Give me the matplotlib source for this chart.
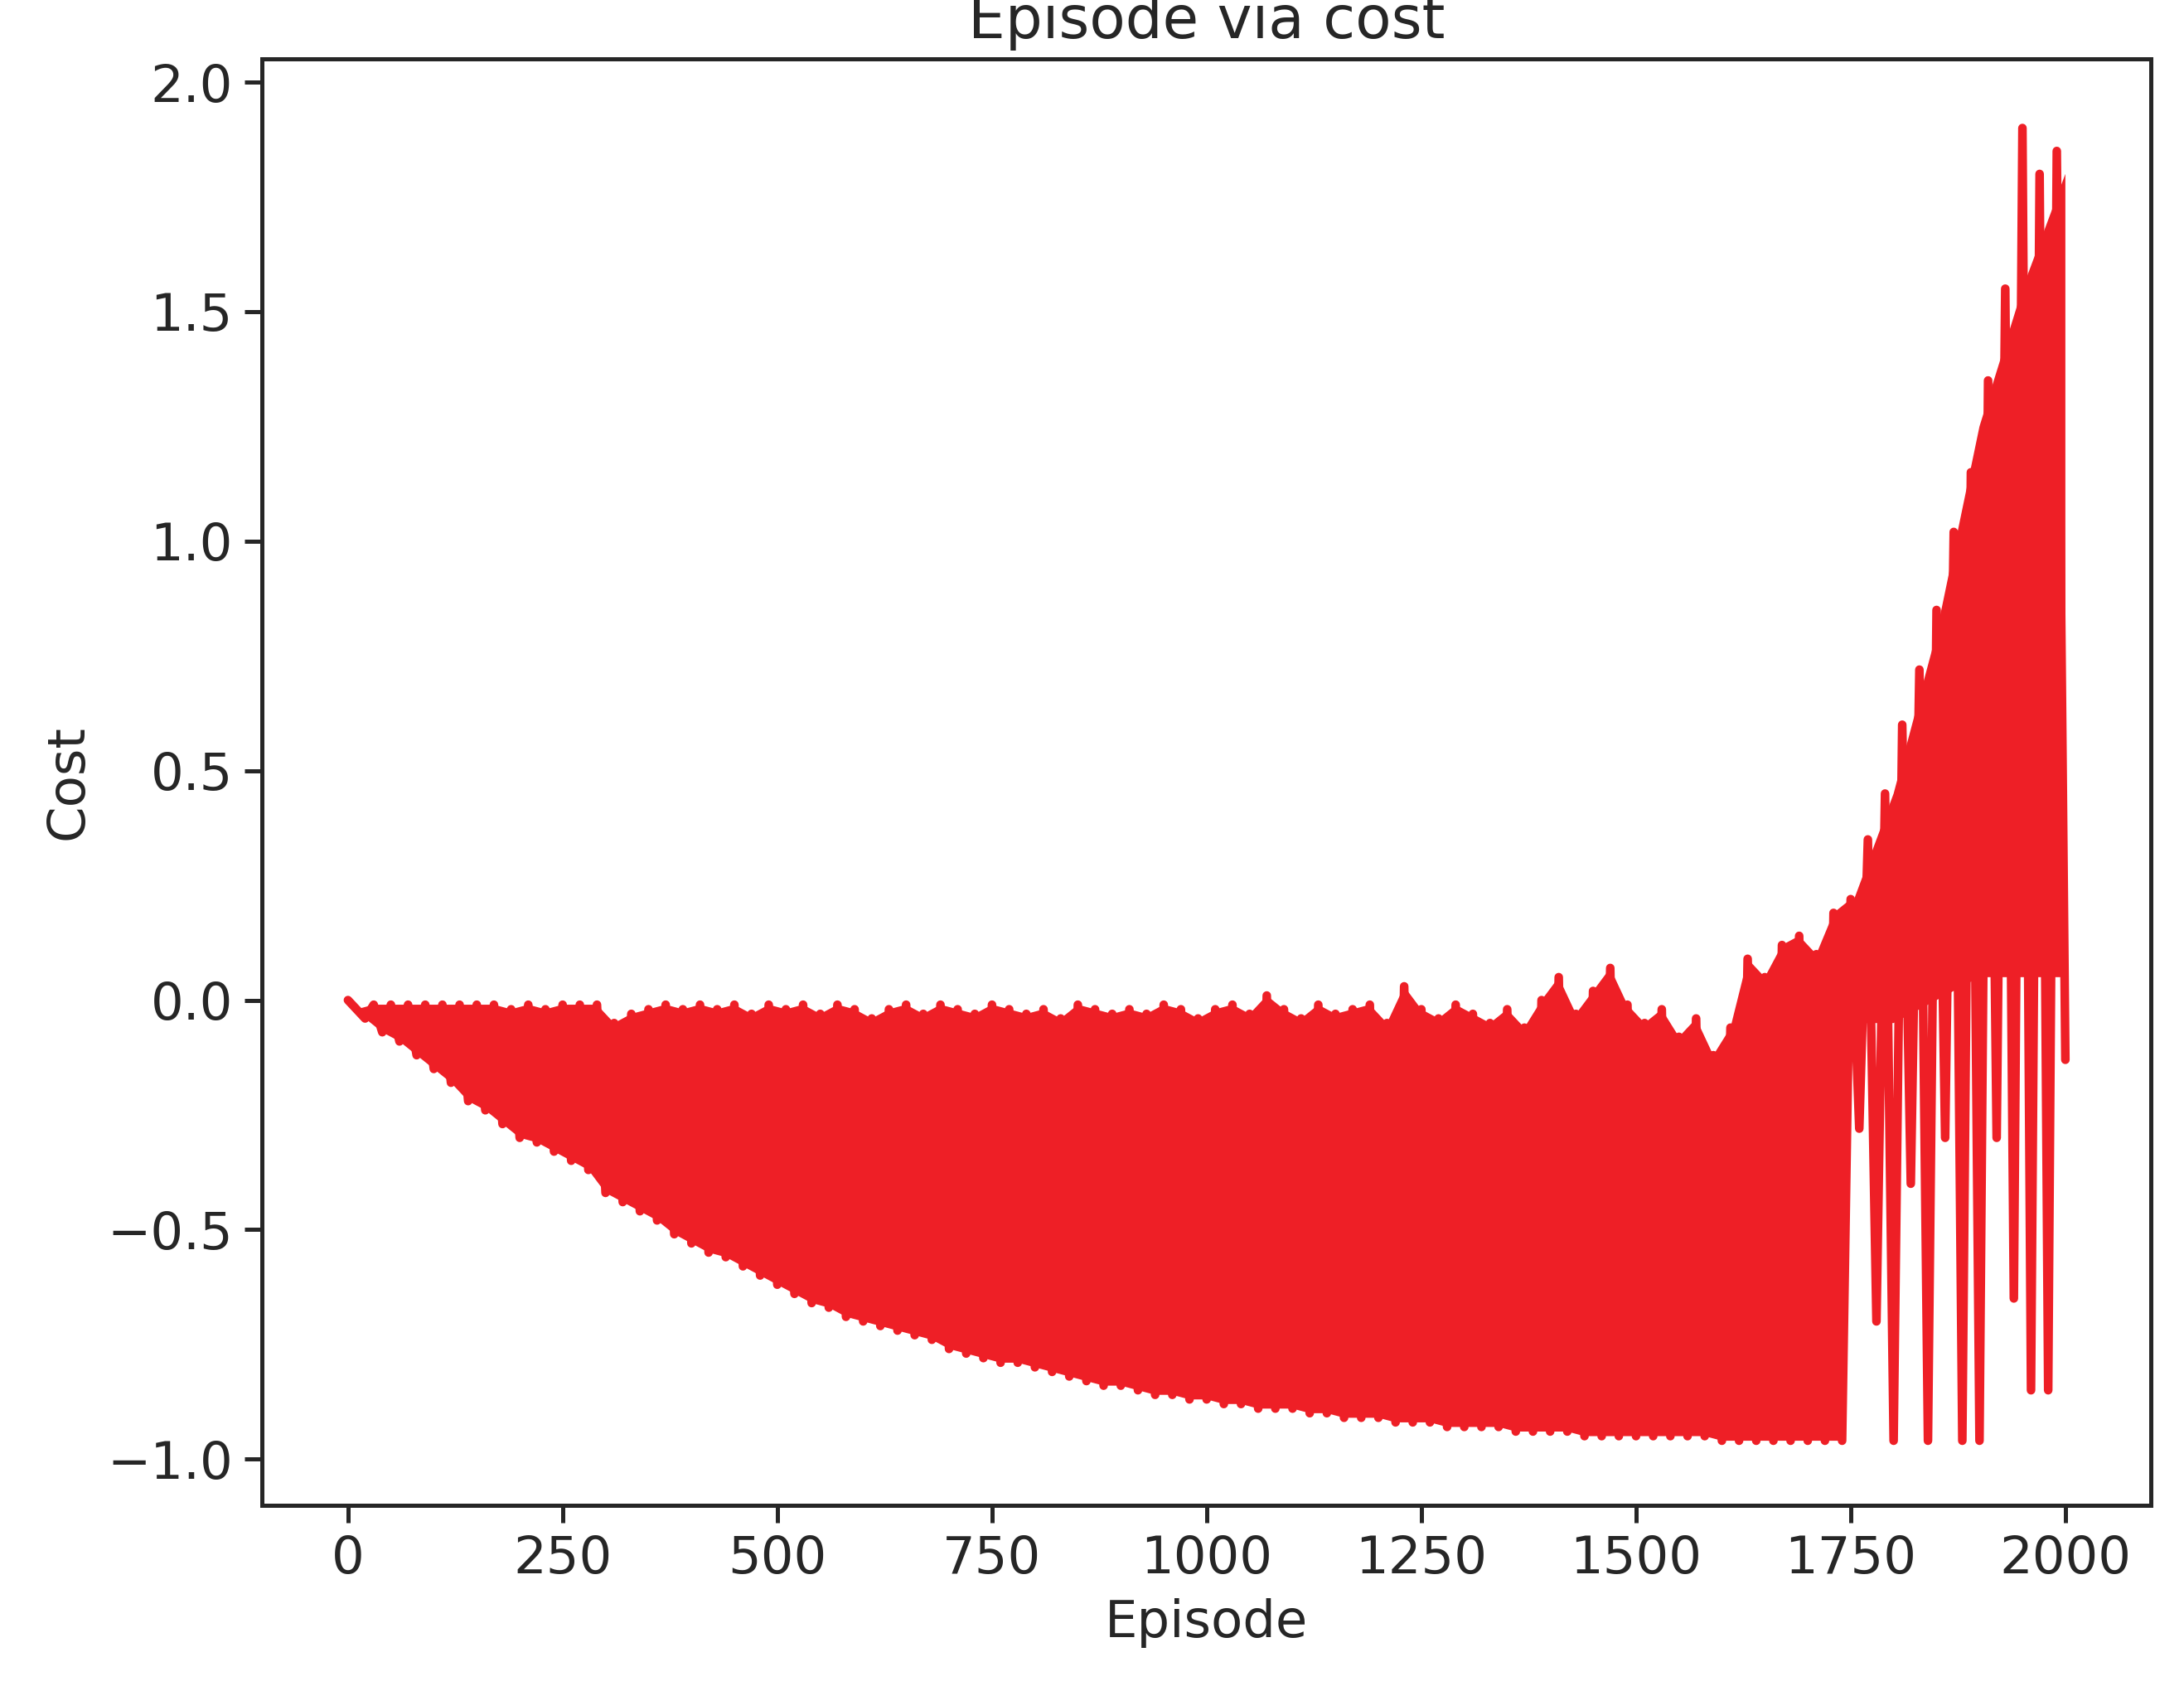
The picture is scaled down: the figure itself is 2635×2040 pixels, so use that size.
import numpy as np
import matplotlib
matplotlib.use("Agg")
import matplotlib.pyplot as plt
import seaborn as sns

cost = [
 0, -0.02, -0.04, -0.01, -0.07, -0.01, -0.09, -0.01, -0.12, -0.01, -0.15,
 -0.01, -0.18, -0.01, -0.22, -0.01, -0.24, -0.01, -0.27, -0.02, -0.30,
 -0.01, -0.31, -0.02, -0.33, -0.01, -0.35, -0.01, -0.37, -0.01, -0.42,
 -0.05, -0.44, -0.03, -0.46, -0.02, -0.48, -0.01, -0.51, -0.02, -0.53,
 -0.01, -0.55, -0.02, -0.56, -0.01, -0.58, -0.03, -0.60, -0.01, -0.62,
 -0.02, -0.64, -0.01, -0.66, -0.03, -0.67, -0.01, -0.69, -0.02, -0.70,
 -0.04, -0.71, -0.02, -0.72, -0.01, -0.73, -0.03, -0.74, -0.01, -0.76,
 -0.02, -0.77, -0.03, -0.78, -0.01, -0.79, -0.02, -0.79, -0.03, -0.80,
 -0.02, -0.81, -0.04, -0.82, -0.01, -0.83, -0.02, -0.84, -0.03, -0.84,
 -0.02, -0.85, -0.03, -0.86, -0.01, -0.86, -0.02, -0.87, -0.04, -0.87,
 -0.02, -0.88, -0.01, -0.88, -0.03, -0.89, 0.01, -0.89, -0.02, -0.89,
 -0.04, -0.90, -0.01, -0.90, -0.03, -0.91, -0.02, -0.91, -0.01, -0.91,
 -0.05, -0.92, 0.03, -0.92, -0.02, -0.92, -0.04, -0.93, -0.01, -0.93,
 -0.03, -0.93, -0.05, -0.93, -0.02, -0.94, -0.06, -0.94, 0.00, -0.94,
 0.05, -0.94, -0.03, -0.95, 0.02, -0.95, 0.07, -0.95, -0.01, -0.95,
 -0.05, -0.95, -0.02, -0.95, -0.08, -0.95, -0.04, -0.95, -0.12, -0.96,
 -0.06, -0.96, 0.09, -0.96, 0.05, -0.96, 0.12, -0.96, 0.14, -0.96,
 0.10, -0.96, 0.19, -0.96, 0.22,
 -0.28, 0.35, -0.70, 0.45, -0.96, 0.60, -0.40, 0.72, -0.96, 0.85,
 -0.30, 1.02, -0.96, 1.15, -0.96, 1.35, -0.30, 1.55, -0.65, 1.90,
 -0.85, 1.80, -0.85, 1.85, -0.13,
]
# dense band in the late phase: lower edge / upper edge of the solid region
late_episode = [1750, 1800, 1850, 1900, 1950, 2000]
late_low = [-0.05, -0.05, 0.0, 0.05, 0.05, 0.05]
late_high = [0.20, 0.45, 0.80, 1.25, 1.55, 1.80]

episode = np.linspace(0, 2000, len(cost))
cost = np.array(cost)
RED = "#EE1F26"

sns.set_style("ticks")
plt.rcParams['font.family'] = ['DejaVu Sans']
fig, ax = plt.subplots(figsize=(2635/300, 2040/300), dpi=300)

n_early = 176
ex, ey = episode[:n_early], cost[:n_early]
lo_x, lo_y = ex[0::2], ey[0::2]
hi_x, hi_y = ex[1::2], ey[1::2]
ax.fill(np.concatenate([lo_x, hi_x[::-1]]), np.concatenate([lo_y, hi_y[::-1]]),
        color=RED, linewidth=0)
ax.fill(np.concatenate([late_episode, late_episode[::-1]]),
        np.concatenate([late_low, late_high[::-1]]), color=RED, linewidth=0)
ax.plot(episode, cost, color=RED, linewidth=2.5)

ax.set_title("Episode via cost", fontsize=17)
ax.set_xlabel("Episode", fontsize=15)
ax.set_ylabel("Cost", fontsize=15)
ax.tick_params(labelsize=15, width=1.2, length=5)
ax.set_xlim(-100, 2100)
ax.set_ylim(-1.1, 2.05)
for s in ax.spines.values():
    s.set_linewidth(1.2)
fig.subplots_adjust(left=0.12, right=0.985, top=0.965, bottom=0.11)
fig.savefig("out.png", dpi=300)
